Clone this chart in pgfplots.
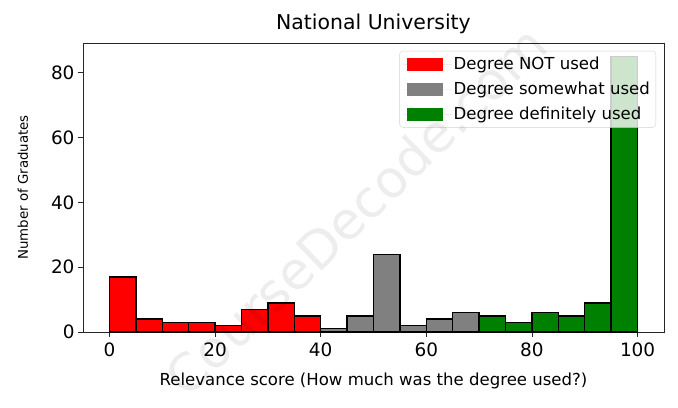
\documentclass[border=0pt]{standalone}
\usepackage{pgfplots}
\pgfplotsset{compat=1.18}
\usepackage{fontspec}
\setmainfont{DejaVu Sans}
\definecolor{mplgreen}{RGB}{0,128,0}
\definecolor{mplgray}{RGB}{128,128,128}
\definecolor{spine}{RGB}{38,38,38}

\begin{document}
\begin{tikzpicture}
\begin{axis}[
  scale only axis,
  width=581bp, height=289bp,
  xmin=-5, xmax=105, ymin=0, ymax=89.25,
  xtick={0,20,...,100}, ytick={0,20,...,80},
  tick align=outside, tick pos=left,
  major tick length=5bp,
  every tick/.style={spine, line width=0.9bp},
  axis line style={spine, line width=0.9bp},
  ticklabel style={font=\fontsize{18.5}{21}\selectfont},
  xticklabel style={yshift=-2bp},
  /pgf/number format/assume math mode=true,
  title={National University},
  title style={font=\fontsize{20.5}{24}\selectfont},
  xlabel={Relevance score (How much was the degree used?)},
  ylabel={Number of Graduates},
  xlabel style={font=\fontsize{16.6}{19}\selectfont, yshift=-10bp},
  ylabel style={font=\fontsize{13.4}{16}\selectfont, yshift=16bp},
  legend cell align=left,
  legend style={at={(1,1)}, anchor=north east, xshift=-8bp, yshift=-8bp,
    font=\fontsize{16.6}{19}\selectfont, draw=gray!35, rounded corners=3bp,
    fill=white, fill opacity=0.8, text opacity=1,
    row sep=7bp, inner sep=4bp},
  legend image code/.code={
    \fill[#1, draw=none, sharp corners, fill opacity=1] (0bp,-6.5bp) rectangle (36bp,6.5bp);
    \path[draw=none] (-3bp,0bp) -- (45bp,0bp);},
]
\coordinate (wm) at (axis cs:46.7,37.5);
\addplot[ybar interval, fill=red, draw=black, line width=1.4bp] coordinates {
  (0,17) (5,4) (10,3) (15,3) (20,2) (25,7) (30,9) (35,5) (40,0)
};
\addplot[ybar interval, fill=mplgray, draw=black, line width=1.4bp] coordinates {
  (40,1) (45,5) (50,24) (55,2) (60,4) (65,6) (70,0)
};
\addplot[ybar interval, fill=mplgreen, draw=black, line width=1.4bp] coordinates {
  (70,5) (75,3) (80,6) (85,5) (90,9) (95,85) (100,0)
};
\legend{Degree NOT used, Degree somewhat used, Degree definitely used}
\end{axis}
% faint watermark, drawn over the whole figure like the original
\node[rotate=44, text=black, text opacity=0.07, font=\fontsize{52}{58}\selectfont] at (wm) {CourseDecode.com};
\path ([xshift=-83bp,yshift=-76bp]current axis.south west) rectangle ([xshift=14bp,yshift=43bp]current axis.north east);
\end{tikzpicture}
\end{document}
